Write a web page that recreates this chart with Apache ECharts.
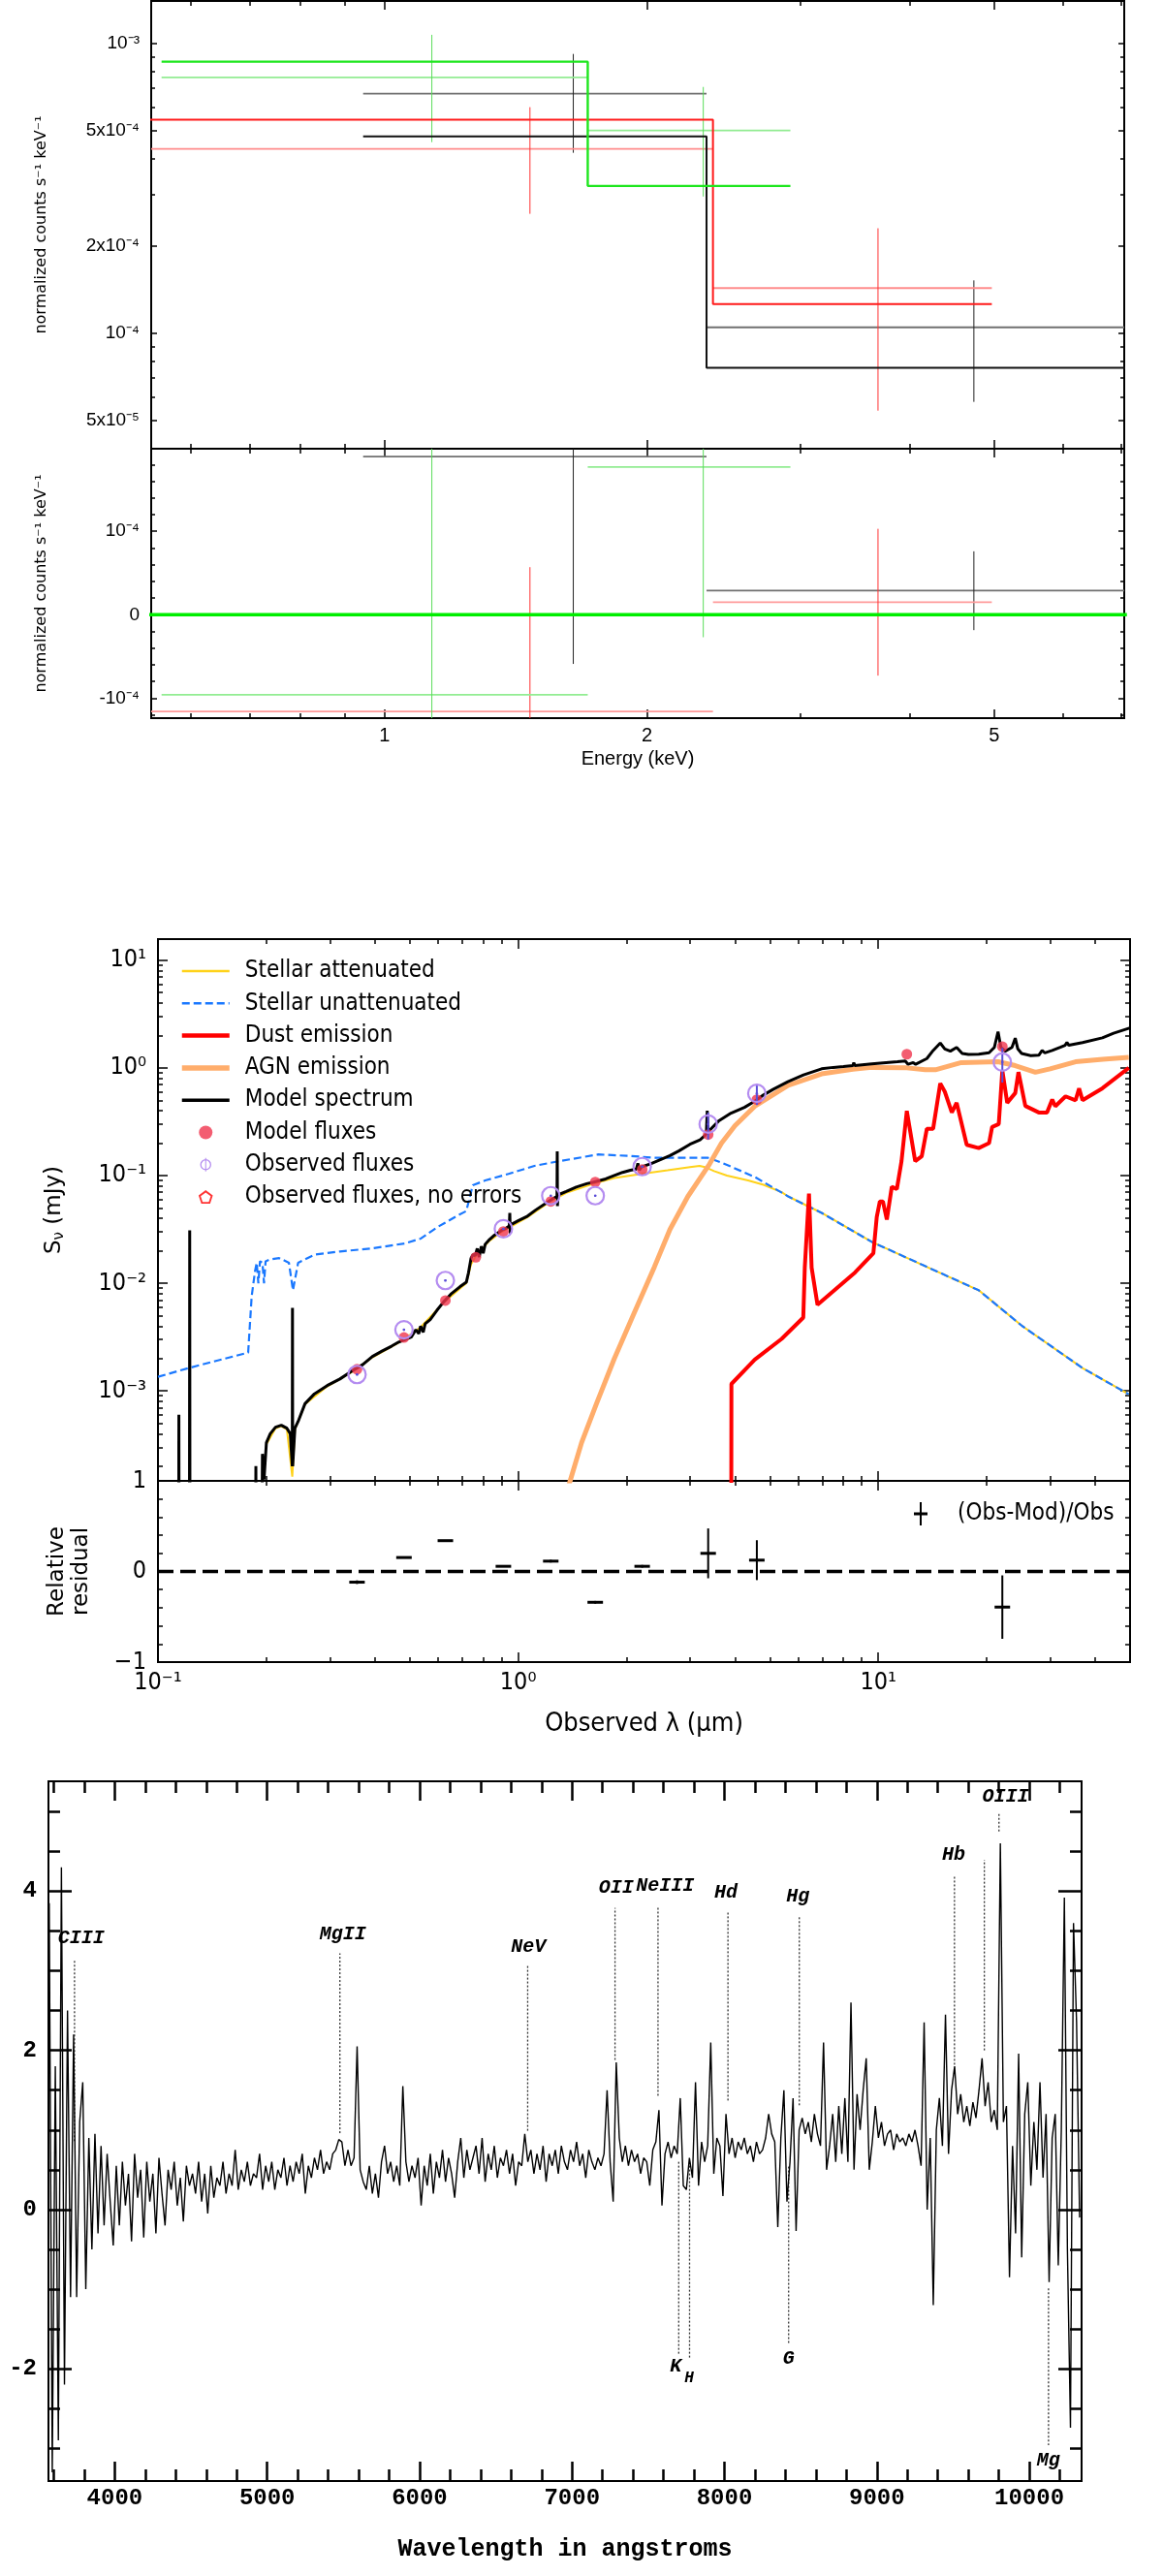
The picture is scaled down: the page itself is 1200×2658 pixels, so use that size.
<!DOCTYPE html>
<html>
<head>
<meta charset="utf-8">
<script src="https://cdn.jsdelivr.net/npm/echarts@6/dist/echarts.min.js"></script>
<style>
  html, body { margin: 0; padding: 0; background: #fff; }
  #chart { width: 1200px; height: 2658px; }
</style>
</head>
<body>
<div id="chart"></div>
<script>
// ---------- X-ray spectrum (top figure) ----------
// model steps [energy keV, counts]
const xrayModelBlack = [[0.945, 4.77e-4], [2.34, 4.77e-4], [2.34, 7.59e-5], [7.08, 7.59e-5]];
const xrayModelRed = [[0.50, 5.45e-4], [2.38, 5.45e-4], [2.38, 1.26e-4], [4.97, 1.26e-4]];
const xrayModelGreen = [[0.555, 8.64e-4], [1.71, 8.64e-4], [1.71, 3.22e-4], [2.92, 3.22e-4]];
// data bins [E_lo, E_hi, E_bar, value, value_lo, value_hi]
const xrayDataBlack = [[0.945, 2.34, 1.646, 6.70e-4, 4.19e-4, 9.19e-4], [2.34, 7.08, 4.74, 1.047e-4, 5.79e-5, 1.52e-4]];
const xrayDataRed = [[0.50, 2.38, 1.468, 4.32e-4, 2.58e-4, 6.02e-4], [2.38, 4.97, 3.68, 1.43e-4, 5.4e-5, 2.30e-4]];
const xrayDataGreen = [[0.555, 1.71, 1.133, 7.63e-4, 4.56e-4, 1.07e-3], [1.71, 2.92, 2.32, 5.0e-4, 2.96e-4, 7.07e-4]];
// residuals, same layout
const xrayResBlack = [[0.945, 2.34, 1.646, 1.896e-4, -0.59e-4, 3e-4], [2.34, 7.08, 4.74, 0.29e-4, -0.185e-4, 0.76e-4]];
const xrayResRed = [[0.50, 2.38, 1.468, -1.16e-4, -2e-4, 0.57e-4], [2.38, 4.97, 3.68, 0.15e-4, -0.73e-4, 1.03e-4]];
const xrayResGreen = [[0.555, 1.71, 1.133, -0.96e-4, -2e-4, 3e-4], [1.71, 2.92, 2.32, 1.77e-4, -0.27e-4, 3e-4]];
const xrayZero = [[0.5, 0], [7.1, 0]];

const xrayETicks = [1, 2, 5];
const xrayELabels = ['1', '2', '5'];
const xrayEMinor = [0.6, 0.7, 0.8, 0.9, 3, 4, 6, 7];
const xrayFluxTicks = [5e-5, 1e-4, 2e-4, 5e-4, 1e-3];
const xrayFluxLabels = ['5x10⁻⁵', '10⁻⁴', '2x10⁻⁴', '5x10⁻⁴', '10⁻³'];
const xrayFluxMinor = [6e-5, 7e-5, 8e-5, 9e-5, 3e-4, 4e-4, 6e-4, 7e-4, 8e-4, 9e-4];
const xrayResTicks = [-1e-4, 0, 1e-4];
const xrayResLabels = ['-10⁻⁴', '0', '10⁻⁴'];
const xrayResMinor = [-1.2e-4, -8e-5, -6e-5, -4e-5, -2e-5, 2e-5, 4e-5, 6e-5, 8e-5, 1.2e-4, 1.4e-4, 1.6e-4, 1.8e-4];

// ---------- SED (middle figure), [wavelength um, mJy] ----------
const stellarAtt = [[0.2, 3.2e-4], [0.212, 4.5e-4], [0.22, 4.7e-4], [0.228, 4.4e-4], [0.236, 1.6e-4], [0.24, 4.4e-4],
  [0.256, 7.5e-4], [0.295, 1.1e-3], [0.351, 1.55e-3], [0.394, 2.05e-3], [0.466, 2.8e-3], [0.536, 3.9e-3],
  [0.621, 6.6e-3], [0.718, 1.0e-2], [0.74, 1.5e-2], [0.76, 1.75e-2], [0.829, 2.45e-2], [0.9, 3.0e-2],
  [1.062, 4.1e-2], [1.214, 5.6e-2], [1.36, 6.9e-2], [1.62, 8.4e-2], [1.85, 0.095], [2.2, 0.1035], [2.6, 0.112],
  [3.0, 0.12], [3.19, 0.123], [3.3, 0.12], [3.5, 0.11], [3.8, 0.10], [4.35, 0.09], [4.8, 0.082], [5.39, 0.07],
  [5.62, 0.064], [6.96, 0.045], [9.59, 0.0242], [13.2, 0.0149], [19.0, 0.0086], [25.1, 0.0040], [36.9, 1.63e-3], [49.6, 9.3e-4]];
const stellarUnatt = [[0.1, 1.35e-3], [0.1217, 1.63e-3], [0.178, 2.27e-3], [0.182, 7.5e-3], [0.186, 1.3e-2], [0.188, 1.55e-2],
  [0.190, 1.0e-2], [0.192, 1.6e-2], [0.195, 1.55e-2], [0.197, 1.0e-2], [0.199, 1.6e-2], [0.204, 1.66e-2], [0.217, 1.71e-2],
  [0.231, 1.55e-2], [0.237, 8.6e-3], [0.245, 1.55e-2], [0.272, 1.84e-2], [0.32, 1.97e-2], [0.394, 2.11e-2], [0.484, 2.34e-2],
  [0.537, 2.6e-2], [0.596, 3.31e-2], [0.675, 4.2e-2], [0.718, 4.68e-2], [0.748, 8.13e-2], [0.81, 9.0e-2], [0.94, 0.1035],
  [1.11, 0.123], [1.30, 0.136], [1.67, 0.157], [2.05, 0.152], [2.39, 0.146], [3.37, 0.146], [3.67, 0.132], [4.54, 0.097],
  [5.62, 0.064], [6.96, 0.045], [9.59, 0.0242], [13.2, 0.0149], [19.0, 0.0086], [25.1, 0.0040], [36.9, 1.63e-3], [49.6, 9.3e-4]];
const dustEmission = [[3.9, 1e-6], [3.91, 1.16e-3], [4.54, 1.95e-3], [5.39, 3.04e-3], [6.19, 4.8e-3], [6.25, 0.0139],
  [6.42, 0.068], [6.53, 0.0139], [6.78, 6.3e-3], [8.62, 0.0126], [9.69, 0.019], [9.9, 0.041], [10.1, 0.0575], [10.3, 0.0575],
  [10.56, 0.039], [10.9, 0.0785], [11.26, 0.075], [11.6, 0.136], [12.0, 0.398], [12.66, 0.136], [13.2, 0.151], [13.64, 0.272],
  [14.2, 0.272], [14.86, 0.718], [15.3, 0.60], [16.0, 0.385], [16.5, 0.474], [17.6, 0.193], [19.0, 0.18], [20.3, 0.2],
  [20.7, 0.282], [21.6, 0.30], [22.1, 0.946], [22.8, 0.474], [24.0, 0.583], [24.5, 0.914], [25.6, 0.443], [27.9, 0.385],
  [29.4, 0.385], [30.4, 0.508], [31.0, 0.44], [33.1, 0.544], [35.3, 0.50], [36.1, 0.646], [36.9, 0.50], [41.9, 0.646], [49.6, 1.0]];
const agnEmission = [[1.37, 1.2e-4], [1.5, 3.3e-4], [1.65, 7.6e-4], [1.85, 2.0e-3], [2.09, 5.1e-3], [2.39, 0.0142],
  [2.64, 0.0316], [2.96, 0.064], [3.4, 0.128], [3.67, 0.2], [4.0, 0.29], [4.54, 0.44], [5.62, 0.69], [6.96, 0.88],
  [8.5, 0.97], [9.59, 1.01], [12.0, 1.0], [13.5, 0.96], [14.4, 0.96], [17.0, 1.12], [21.5, 1.14], [24.0, 1.05],
  [27.3, 0.91], [30.0, 0.98], [35.3, 1.14], [42.0, 1.2], [49.6, 1.25]];
const modelSpectrum = [[0.1140, 1e-6], [0.1143, 6.0e-4], [0.1146, 1e-6], [0.1222, 1e-6], [0.1225, 0.031], [0.1228, 1e-6],
  [0.186, 1e-6], [0.187, 2.0e-4], [0.188, 1e-6], [0.193, 1e-6], [0.195, 2.6e-4], [0.197, 1.5e-4], [0.2, 3.3e-4],
  [0.205, 4.0e-4], [0.212, 4.6e-4], [0.22, 4.8e-4], [0.228, 4.5e-4], [0.233, 4.0e-4], [0.236, 2.0e-4], [0.2363, 5.9e-3],
  [0.2366, 2.0e-4], [0.24, 4.5e-4], [0.245, 5.2e-4], [0.256, 7.6e-4], [0.272, 9.4e-4], [0.295, 1.12e-3], [0.32, 1.29e-3],
  [0.351, 1.58e-3], [0.37, 1.75e-3], [0.394, 2.09e-3], [0.42, 2.35e-3], [0.445, 2.6e-3], [0.466, 2.84e-3], [0.505, 3.16e-3],
  [0.52, 3.7e-3], [0.53, 3.4e-3], [0.536, 4.0e-3], [0.545, 3.5e-3], [0.552, 4.2e-3], [0.57, 4.6e-3], [0.595, 5.6e-3],
  [0.621, 6.7e-3], [0.65, 7.9e-3], [0.69, 9.3e-3], [0.718, 1.02e-2], [0.728, 1.25e-2], [0.74, 1.71e-2], [0.75, 1.85e-2],
  [0.76, 1.8e-2], [0.77, 2.1e-2], [0.78, 1.75e-2], [0.79, 2.2e-2], [0.80, 1.9e-2], [0.81, 2.3e-2], [0.829, 2.51e-2],
  [0.86, 2.8e-2], [0.9, 3.1e-2], [0.92, 3.2e-2], [0.945, 3.4e-2], [0.948, 4.5e-2], [0.951, 2.9e-2], [0.955, 3.5e-2],
  [1.0, 3.8e-2], [1.062, 4.2e-2], [1.12, 4.8e-2], [1.214, 5.75e-2], [1.26, 6.2e-2], [1.282, 6.4e-2], [1.284, 0.168],
  [1.286, 5.2e-2], [1.29, 6.6e-2], [1.36, 7.1e-2], [1.45, 7.8e-2], [1.55, 8.4e-2], [1.62, 8.7e-2], [1.75, 9.3e-2],
  [1.85, 0.10], [1.95, 0.107], [2.05, 0.112], [2.13, 0.115], [2.15, 0.13], [2.17, 0.112], [2.2, 0.12], [2.35, 0.13],
  [2.5, 0.142], [2.64, 0.153], [2.8, 0.17], [3.0, 0.195], [3.2, 0.215], [3.3, 0.235], [3.33, 0.245], [3.35, 0.40],
  [3.37, 0.255], [3.6, 0.32], [3.9, 0.38], [4.25, 0.43], [4.54, 0.49], [4.8, 0.56], [5.1, 0.63], [5.61, 0.743],
  [6.2, 0.86], [6.96, 0.98], [7.5, 1.01], [8.0, 1.03], [8.5, 1.05], [8.55, 1.12], [8.6, 1.05], [9.59, 1.09], [10.5, 1.12],
  [11.3, 1.14], [11.88, 1.16], [12.1, 1.08], [12.5, 1.12], [12.7, 1.08], [13.64, 1.22], [14.2, 1.45], [14.86, 1.70],
  [15.3, 1.5], [15.85, 1.43], [16.5, 1.55], [17.1, 1.36], [17.8, 1.33], [19.0, 1.34], [20.3, 1.38], [21.0, 1.55],
  [21.5, 2.17], [21.9, 1.55], [22.5, 1.43], [23.5, 1.55], [24.0, 1.89], [24.4, 1.50], [25.0, 1.36], [26.5, 1.30],
  [27.9, 1.31], [28.5, 1.45], [29.0, 1.38], [30.4, 1.45], [32.0, 1.55], [33.0, 1.62], [33.4, 1.72], [33.8, 1.62],
  [36.9, 1.72], [41.9, 1.90], [45.0, 2.10], [50, 2.35]];
const modelFluxes = [[0.357, 1.59e-3], [0.482, 3.13e-3], [0.628, 6.9e-3], [0.763, 1.74e-2], [0.910, 3.02e-2],
  [1.232, 5.75e-2], [1.637, 8.7e-2], [2.21, 0.114], [3.37, 0.24], [4.60, 0.507], [12.0, 1.34], [22.1, 1.575]];
// [wavelength, flux, error]
const obsFluxes = [[0.357, 1.42e-3, 3e-5], [0.482, 3.7e-3, 8e-5], [0.628, 1.06e-2, 2e-4], [0.910, 3.2e-2, 6e-4],
  [1.232, 6.5e-2, 1e-3], [1.637, 6.5e-2, 1e-3], [2.21, 0.121, 2e-3], [3.37, 0.30, 0.084], [4.60, 0.58, 0.128], [22.1, 1.13, 0.40]];
const obsNoErr = [];
// relative residuals [wavelength, (obs-mod)/obs, error]
const relResidual = [[0.357, -0.118, 0.02], [0.482, 0.154, 0], [0.628, 0.34, 0], [0.910, 0.057, 0], [1.232, 0.114, 0.015],
  [1.637, -0.34, 0.015], [2.21, 0.057, 0.015], [3.37, 0.20, 0.275], [4.60, 0.125, 0.22], [22.1, -0.393, 0.35]];
const sedZero = [[0.1, 0], [50, 0]];

const sedWaveTicks = [0.1, 1, 10];
const sedWaveLabels = ['10⁻¹', '10⁰', '10¹'];
const sedWaveMinor = [0.2, 0.3, 0.4, 0.5, 0.6, 0.7, 0.8, 0.9, 2, 3, 4, 5, 6, 7, 8, 9, 20, 30, 40];
const sedFluxTicks = [1e-3, 1e-2, 1e-1, 1, 10];
const sedFluxLabels = ['10⁻³', '10⁻²', '10⁻¹', '10⁰', '10¹'];
const sedFluxMinor = [];
[1e-4, 1e-3, 1e-2, 1e-1, 1].forEach(function (d) { for (let m = 2; m <= 9; m++) sedFluxMinor.push(m * d); });
const sedResTicks = [-1, 0, 1];
const sedResLabels = ['−1', '0', '1'];
const sedResMinor = [-0.8, -0.6, -0.4, -0.2, 0.2, 0.4, 0.6, 0.8];

// ---------- optical spectrum (bottom figure) ----------
const specStart = 3570, specStep = 20;
const specFlux = [
  3.85, -3.3, 1.8, -2.9, 4.3, -2.2, 2.5, -1.1, 2.2, -1.1,
  1.1, 1.6, -1.0, 0.9, -0.5, 0.95, -0.3, 0.8, -0.2, 0.7,
  0.1, -0.45, 0.55, -0.2, 0.6, 0.05, 0.45, -0.4, 0.7, 0.15,
  0.5, -0.35, 0.6, 0.1, 0.45, -0.3, 0.65, 0.2, -0.2, 0.5,
  0.25, 0.6, 0.05, 0.4, -0.15, 0.55, 0.3, 0.45, 0.2, 0.6,
  0.1, 0.45, -0.05, 0.55, 0.15, 0.4, 0.3, 0.6, 0.2, 0.45,
  0.3, 0.75, 0.25, 0.5, 0.35, 0.6, 0.3, 0.45, 0.4, 0.7,
  0.25, 0.55, 0.35, 0.6, 0.25, 0.5, 0.4, 0.65, 0.3, 0.55,
  0.35, 0.6, 0.45, 0.7, 0.2, 0.55, 0.4, 0.65, 0.5, 0.75,
  0.45, 0.6, 0.5, 0.7, 0.75, 0.88, 0.85, 0.55, 0.75, 0.55,
  0.65, 2.05, 0.5, 0.35, 0.25, 0.55, 0.2, 0.45, 0.15, 0.6,
  0.8, 0.45, 0.6, 0.35, 0.55, 0.3, 1.55, 0.6, 0.35, 0.55,
  0.4, 0.65, 0.05, 0.55, 0.3, 0.7, 0.2, 0.6, 0.4, 0.75,
  0.35, 0.65, 0.45, 0.15, 0.6, 0.9, 0.4, 0.75, 0.5, 0.65,
  0.8, 0.45, 0.9, 0.35, 0.7, 0.5, 0.8, 0.4, 0.65, 0.55,
  0.75, 0.45, 0.7, 0.3, 0.6, 0.55, 0.95, 0.6, 0.75, 0.45,
  0.7, 0.5, 0.8, 0.35, 0.7, 0.55, 0.75, 0.45, 0.8, 0.6,
  0.5, 0.75, 0.6, 0.85, 0.55, 0.7, 0.4, 0.75, 0.6, 0.5,
  0.65, 0.55, 0.7, 1.5, 0.6, 0.1, 1.85, 0.9, 0.6, 0.8,
  0.55, 0.75, 0.6, 0.7, 0.45, 0.65, 0.6, 0.3, 0.75, 0.85,
  1.25, 0.05, 0.7, 0.85, 0.65, 0.8, 0.7, 1.4, 0.3, 0.25,
  0.65, 0.4, 1.6, 0.3, 0.85, 0.6, 0.8, 2.1, 0.45, 0.9,
  0.8, 0.17, 1.2, 0.7, 0.9, 0.65, 0.85, 0.75, 0.9, 0.7,
  0.8, 0.6, 0.85, 0.7, 0.75, 0.9, 1.2, 0.95, 0.85, -0.22,
  0.9, 1.5, 0.1, 0.6, 1.4, -0.27, 1.0, 1.15, 0.95, 1.1,
  0.85, 1.2, 0.95, 0.8, 2.1, 0.5, 0.8, 1.2, 0.6, 1.3,
  0.7, 1.4, 0.6, 2.6, 0.5, 1.45, 1.0, 1.5, 1.9, 0.5,
  0.85, 1.3, 0.9, 1.1, 0.8, 0.95, 1.0, 0.75, 0.95, 0.85,
  0.9, 0.8, 0.95, 0.85, 1.0, 0.8, 0.55, 2.35, 0.0, 0.9,
  -1.2, 1.0, 1.4, 0.8, 2.45, 0.7, 1.5, 1.8, 1.2, 1.45,
  1.1, 1.3, 1.05, 1.35, 1.15, 1.5, 1.9, 1.3, 1.6, 1.1,
  1.25, 1.0, 4.6, 1.1, 1.3, -0.85, 0.8, -0.3, 1.96, -0.6,
  1.2, 1.6, 0.3, 1.1, 0.5, 1.6, 0.4, 1.2, -0.91, 0.9,
  1.2, -0.7, 1.0, 3.92, -0.5, -2.74, 3.6, 2.36, -0.1
];
// [label, line wavelength, line from, line to, label wavelength, label y, font size]
const specLines = [
  ['CIII', 3736, 0.86, 3.15, 3780, 3.41, 20],
  ['MgII', 5477, 0.96, 3.22, 5497, 3.46, 20],
  ['NeV', 6709, 0.99, 3.06, 6714, 3.30, 20],
  ['OII', 7282, 1.88, 3.79, 7290, 4.04, 20],
  ['NeIII', 7564, 1.43, 3.79, 7610, 4.06, 20],
  ['Hd', 8023, 1.37, 3.73, 8010, 3.98, 20],
  ['Hg', 8491, 1.31, 3.68, 8481, 3.93, 20],
  ['Hb', 9509, 1.82, 4.18, 9504, 4.45, 20],
  ['', 9705, 2.0, 4.39, 9705, 0, 20],
  ['OIII', 9801, 4.75, 4.97, 9844, 5.18, 20],
  ['K', 7700, 0.6, -1.82, 7680, -1.97, 20],
  ['H', 7771, 0.6, -1.88, 7768, -2.12, 16],
  ['G', 8421, 0.54, -1.69, 8421, -1.88, 20],
  ['Mg', 10126, -0.99, -2.96, 10126, -3.15, 20]
];
const specWaveTicks = [4000, 5000, 6000, 7000, 8000, 9000, 10000];
const specWaveMinor = [3600, 3800, 4200, 4400, 4600, 4800, 5200, 5400, 5600, 5800, 6200, 6400, 6600, 6800,
  7200, 7400, 7600, 7800, 8200, 8400, 8600, 8800, 9200, 9400, 9600, 9800, 10200];
const specFluxTicks = [-2, 0, 2, 4];
const specFluxLabels = ['-2', '0', '2', '4'];
const specFluxMinor = [-3, -2.5, -1.5, -1, -0.5, 0.5, 1, 1.5, 2.5, 3, 3.5, 4.5, 5];

// ---------- helpers ----------
const NARROW = "'Liberation Sans Narrow','DejaVu Sans Condensed','Liberation Sans',sans-serif";
const PLAIN = "'Liberation Sans','Helvetica','Arial',sans-serif";
const WIDE = "'DejaVu Sans','Liberation Sans',sans-serif";
const MONO = "'Liberation Mono','DejaVu Sans Mono',monospace";

function pick(values, texts) {
  return function (v) {
    let best = 0;
    for (let i = 1; i < values.length; i++) {
      if (Math.abs(v - values[i]) < Math.abs(v - values[best])) best = i;
    }
    return texts[best];
  };
}

const xAxes = [];
const yAxes = [];

// main axis (labels + major ticks), minor ticks, and the mirrored pair on the other side
function addAxes(list, dim, gridIndex, o) {
  const sides = dim === 'x' ? ['bottom', 'top'] : ['left', 'right'];
  const first = list.length;
  const tickStyle = { color: '#000', width: o.tickWidth || 1.5 };
  [[sides[0], true], [sides[1], false]].forEach(function (s) {
    const main = s[1];
    list.push({
      gridIndex: gridIndex, type: o.type, min: o.min, max: o.max, position: s[0], silent: true,
      axisLine: { show: false, onZero: false },
      splitLine: { show: false },
      axisTick: { show: true, inside: true, length: o.majorLen, customValues: o.major, lineStyle: tickStyle },
      axisLabel: main && o.labels ? {
        show: true, customValues: o.major, formatter: o.labels, margin: o.margin, color: '#000',
        fontSize: o.fontSize, fontFamily: o.font, fontWeight: o.fontWeight || 'normal'
      } : { show: false },
      name: main && o.name ? o.name : '',
      nameLocation: 'middle', nameGap: o.nameGap, nameTextStyle: o.nameStyle
    });
    list.push({
      gridIndex: gridIndex, type: o.type, min: o.min, max: o.max, position: s[0], silent: true,
      axisLine: { show: false, onZero: false },
      splitLine: { show: false },
      axisTick: { show: true, inside: true, length: o.minorLen, customValues: o.minor, lineStyle: tickStyle },
      axisLabel: { show: false }
    });
  });
  return first;
}

function clampY(v, cs) { return Math.min(Math.max(v, cs.y), cs.y + cs.height); }

// XSPEC style cross: bin width + vertical error
function crossRender(barColor, errColor) {
  return function (params, api) {
    const cs = params.coordSys;
    const a = api.coord([api.value(0), api.value(3)]);
    const b = api.coord([api.value(1), api.value(3)]);
    const lo = api.coord([api.value(2), api.value(4)]);
    const hi = api.coord([api.value(2), api.value(5)]);
    return {
      type: 'group', children: [
        { type: 'line', shape: { x1: Math.max(a[0], cs.x), y1: a[1], x2: Math.min(b[0], cs.x + cs.width), y2: b[1] },
          style: { stroke: barColor, lineWidth: 1.8 } },
        { type: 'line', shape: { x1: lo[0], y1: clampY(lo[1], cs), x2: hi[0], y2: clampY(hi[1], cs) },
          style: { stroke: errColor, lineWidth: 1 } }
      ]
    };
  };
}

const xrayNameStyle = { fontFamily: WIDE, fontSize: 16, color: '#000' };

// ---------- axes ----------
const xr0 = addAxes(xAxes, 'x', 0, { type: 'log', min: 0.54, max: 7.05, major: xrayETicks, minor: xrayEMinor, majorLen: 9, minorLen: 5 });
const yr0 = addAxes(yAxes, 'y', 0, {
  type: 'log', min: 3.99e-5, max: 1.40e-3, major: xrayFluxTicks, minor: xrayFluxMinor, majorLen: 6, minorLen: 4,
  labels: pick(xrayFluxTicks, xrayFluxLabels), margin: 12, fontSize: 19, font: PLAIN,
  name: 'normalized counts s⁻¹ keV⁻¹', nameGap: 105, nameStyle: xrayNameStyle
});
const xr1 = addAxes(xAxes, 'x', 1, {
  type: 'log', min: 0.54, max: 7.05, major: xrayETicks, minor: xrayEMinor, majorLen: 9, minorLen: 5,
  labels: pick(xrayETicks, xrayELabels), margin: 8, fontSize: 20, font: PLAIN,
  name: 'Energy (keV)', nameGap: 32, nameStyle: { fontFamily: PLAIN, fontSize: 20, color: '#000' }
});
const yr1 = addAxes(yAxes, 'y', 1, {
  type: 'value', min: -1.24e-4, max: 1.99e-4, major: xrayResTicks, minor: xrayResMinor, majorLen: 6, minorLen: 4,
  labels: pick(xrayResTicks, xrayResLabels), margin: 12, fontSize: 19, font: PLAIN,
  name: 'normalized counts s⁻¹ keV⁻¹', nameGap: 105, nameStyle: xrayNameStyle
});

const xs0 = addAxes(xAxes, 'x', 2, { type: 'log', min: 0.1, max: 50, major: sedWaveTicks, minor: sedWaveMinor, majorLen: 10, minorLen: 5 });
const ys0 = addAxes(yAxes, 'y', 2, {
  type: 'log', min: 1.46e-4, max: 15.7, major: sedFluxTicks, minor: sedFluxMinor, majorLen: 10, minorLen: 5,
  labels: pick(sedFluxTicks, sedFluxLabels), margin: 12, fontSize: 25, font: NARROW,
  name: '{n|S}{s|ν}{n| (mJy)}', nameGap: 94,
  nameStyle: { color: '#000', rich: { n: { fontFamily: WIDE, fontSize: 23 }, s: { fontFamily: WIDE, fontSize: 15, padding: [10, 0, 0, 0] } } }
});
const xs1 = addAxes(xAxes, 'x', 3, {
  type: 'log', min: 0.1, max: 50, major: sedWaveTicks, minor: sedWaveMinor, majorLen: 10, minorLen: 5,
  labels: pick(sedWaveTicks, sedWaveLabels), margin: 9, fontSize: 25, font: NARROW,
  name: 'Observed λ (μm)', nameGap: 50, nameStyle: { fontFamily: NARROW, fontSize: 27, color: '#000' }
});
const ys1 = addAxes(yAxes, 'y', 3, {
  type: 'value', min: -1, max: 1, major: sedResTicks, minor: sedResMinor, majorLen: 10, minorLen: 5,
  labels: pick(sedResTicks, sedResLabels), margin: 12, fontSize: 25, font: NARROW,
  name: 'Relative\nresidual', nameGap: 66, nameStyle: { fontFamily: WIDE, fontSize: 23, lineHeight: 25, color: '#000' }
});

const xp = addAxes(xAxes, 'x', 4, {
  type: 'value', min: 3565, max: 10343, major: specWaveTicks, minor: specWaveMinor, majorLen: 20, minorLen: 12, tickWidth: 2.5,
  labels: function (v) { return String(Math.round(v)); }, margin: 6, fontSize: 24, font: MONO, fontWeight: 'bold',
  name: 'Wavelength in angstroms', nameGap: 58, nameStyle: { fontFamily: MONO, fontWeight: 'bold', fontSize: 25, color: '#000' }
});
const yp = addAxes(yAxes, 'y', 4, {
  type: 'value', min: -3.41, max: 5.38, major: specFluxTicks, minor: specFluxMinor, majorLen: 24, minorLen: 12, tickWidth: 2.5,
  labels: pick(specFluxTicks, specFluxLabels), margin: 12, fontSize: 24, font: MONO, fontWeight: 'bold'
});

// ---------- series ----------
function stepLine(name, data, color, xi, yi, width) {
  return { name: name, type: 'line', data: data, xAxisIndex: xi, yAxisIndex: yi, symbol: 'none', silent: true,
    lineStyle: { color: color, width: width || 2 }, itemStyle: { color: color }, clip: true, animation: false };
}
function cross(data, bar, err, xi, yi) {
  return { type: 'custom', data: data, xAxisIndex: xi, yAxisIndex: yi, silent: true, clip: true,
    encode: { x: [0, 1, 2], y: [3, 4, 5] }, renderItem: crossRender(bar, err) };
}

const specData = specFlux.map(function (f, i) { return [specStart + i * specStep, f]; });

const series = [
  // X-ray spectrum
  cross(xrayDataBlack, '#707070', '#222', xr0, yr0),
  cross(xrayDataRed, '#ff8c8c', '#ff3030', xr0, yr0),
  cross(xrayDataGreen, '#92ec92', '#5bdc5b', xr0, yr0),
  stepLine('', xrayModelBlack, '#111', xr0, yr0, 2),
  stepLine('', xrayModelRed, '#ff1a1a', xr0, yr0, 2),
  stepLine('', xrayModelGreen, '#1ee61e', xr0, yr0, 2.4),
  // X-ray residuals
  stepLine('', xrayZero, '#00ee00', xr1, yr1, 3.5),
  cross(xrayResBlack, '#707070', '#222', xr1, yr1),
  cross(xrayResRed, '#ff9a9a', '#ff3030', xr1, yr1),
  cross(xrayResGreen, '#92ec92', '#5bdc5b', xr1, yr1),
  // SED
  stepLine('Stellar attenuated', stellarAtt, '#ffd21a', xs0, ys0, 2),
  Object.assign(stepLine('Stellar unattenuated', stellarUnatt, '#1a78ff', xs0, ys0, 2),
    { lineStyle: { color: '#1a78ff', width: 2.2, type: [8, 4] } }),
  stepLine('AGN emission', agnEmission, '#ffad6b', xs0, ys0, 5),
  stepLine('Dust emission', dustEmission, '#ff0000', xs0, ys0, 4),
  stepLine('Model spectrum', modelSpectrum, '#000000', xs0, ys0, 3),
  { name: 'Model fluxes', type: 'scatter', data: modelFluxes, xAxisIndex: xs0, yAxisIndex: ys0, symbol: 'circle',
    symbolSize: 11, itemStyle: { color: '#f0344e' }, silent: true, z: 5 },
  { name: 'Observed fluxes', type: 'custom', data: obsFluxes, xAxisIndex: xs0, yAxisIndex: ys0, silent: true, z: 6,
    encode: { x: 0, y: 1 }, itemStyle: { color: '#b48cf0' },
    renderItem: function (params, api) {
      const c = api.coord([api.value(0), api.value(1)]);
      const lo = api.coord([api.value(0), api.value(1) - api.value(2)]);
      const hi = api.coord([api.value(0), api.value(1) + api.value(2)]);
      return { type: 'group', children: [
        { type: 'line', shape: { x1: c[0], y1: lo[1], x2: c[0], y2: hi[1] }, style: { stroke: '#5b4ed8', lineWidth: 2 } },
        { type: 'circle', shape: { cx: c[0], cy: c[1], r: 9 }, style: { fill: 'none', stroke: '#b48cf0', lineWidth: 2.2 } },
        { type: 'circle', shape: { cx: c[0], cy: c[1], r: 1.3 }, style: { fill: '#5b4ed8' } }
      ] };
    } },
  { name: 'Observed fluxes, no errors', type: 'scatter', data: obsNoErr, xAxisIndex: xs0, yAxisIndex: ys0,
    symbol: 'path://M10,0 L19.51,6.91 L15.88,18.09 L4.12,18.09 L0.49,6.91 Z', itemStyle: { color: '#ff0000' } },
  // SED residuals
  Object.assign(stepLine('', sedZero, '#000', xs1, ys1, 3.5), { lineStyle: { color: '#000', width: 3.5, type: [16, 7] } }),
  { name: '(Obs-Mod)/Obs', type: 'custom', data: relResidual, xAxisIndex: xs1, yAxisIndex: ys1, silent: true, clip: true,
    encode: { x: 0, y: 1 }, itemStyle: { color: '#000' },
    renderItem: function (params, api) {
      const c = api.coord([api.value(0), api.value(1)]);
      const lo = api.coord([api.value(0), api.value(1) - api.value(2)]);
      const hi = api.coord([api.value(0), api.value(1) + api.value(2)]);
      return { type: 'group', children: [
        { type: 'line', shape: { x1: c[0] - 8, y1: c[1], x2: c[0] + 8, y2: c[1] }, style: { stroke: '#000', lineWidth: 3 } },
        { type: 'line', shape: { x1: c[0], y1: lo[1], x2: c[0], y2: hi[1] }, style: { stroke: '#000', lineWidth: 2 } }
      ] };
    } },
  // optical spectrum
  stepLine('', specData, '#000', xp, yp, 1.4),
  { type: 'custom', data: specLines.map(function (r) { return [r[1], r[2], r[3], r[4], r[5], r[6]]; }),
    xAxisIndex: xp, yAxisIndex: yp, silent: true, encode: { x: [0, 3], y: [1, 2, 4] },
    renderItem: function (params, api) {
      const row = specLines[params.dataIndex];
      const a = api.coord([row[1], row[2]]);
      const b = api.coord([row[1], row[3]]);
      const t = api.coord([row[4], row[5]]);
      const kids = [{ type: 'line', shape: { x1: a[0], y1: a[1], x2: b[0], y2: b[1] },
        style: { stroke: '#333', lineWidth: 1.3, lineDash: [2, 2] } }];
      if (row[0]) {
        kids.push({ type: 'text', style: { text: row[0], x: t[0], y: t[1], fill: '#000', align: 'center', verticalAlign: 'middle',
          font: 'italic bold ' + row[6] + 'px ' + MONO } });
      }
      return { type: 'group', children: kids };
    } }
];

// ---------- chart ----------
const chart = echarts.init(document.getElementById('chart'), null, { renderer: 'canvas' });
const gridBase = { show: true, borderColor: '#000', borderWidth: 2, backgroundColor: 'transparent', containLabel: false, outerBoundsMode: 'none' };
const noSymbol = { color: 'rgba(0,0,0,0)', borderWidth: 0 };

chart.setOption({
  animation: false,
  backgroundColor: '#fff',
  grid: [
    Object.assign({ left: 156, top: 1, width: 1004, height: 462 }, gridBase),
    Object.assign({ left: 156, top: 463, width: 1004, height: 278 }, gridBase),
    Object.assign({ left: 163, top: 969, width: 1003, height: 559 }, gridBase),
    Object.assign({ left: 163, top: 1528, width: 1003, height: 187 }, gridBase),
    Object.assign({ left: 50, top: 1838, width: 1066, height: 722 }, gridBase)
  ],
  xAxis: xAxes,
  yAxis: yAxes,
  legend: [
    {
      left: 180, top: 985, orient: 'vertical', itemWidth: 49, itemHeight: 14, itemGap: 9.3, selectedMode: false,
      textStyle: { fontFamily: NARROW, fontSize: 24, lineHeight: 24, color: '#000', padding: [0, 0, 0, 11] },
      data: [
        { name: 'Stellar attenuated', itemStyle: noSymbol, lineStyle: { color: '#ffd21a', width: 2.5, type: 'solid' } },
        { name: 'Stellar unattenuated', itemStyle: noSymbol, lineStyle: { color: '#1a78ff', width: 2.5, type: [8, 4] } },
        { name: 'Dust emission', itemStyle: noSymbol, lineStyle: { color: '#ff0000', width: 4.5, type: 'solid' } },
        { name: 'AGN emission', itemStyle: noSymbol, lineStyle: { color: '#ffad6b', width: 5.5, type: 'solid' } },
        { name: 'Model spectrum', itemStyle: noSymbol, lineStyle: { color: '#000000', width: 3.5, type: 'solid' } },
        { name: 'Model fluxes', icon: 'path://M5,0 A5,5 0 0,1 5,10 A5,5 0 0,1 5,0 Z', itemStyle: { color: '#f0344e' } },
        { name: 'Observed fluxes', icon: 'path://M10,1 A9,9 0 0,1 10,19 A9,9 0 0,1 10,1 Z M10,3 A7,7 0 0,0 10,17 A7,7 0 0,0 10,3 Z M9.2,-1 H10.8 V21 H9.2 Z', itemStyle: { color: '#b48cf0' } },
        { name: 'Observed fluxes, no errors', icon: 'path://M10,0 L19.51,6.91 L15.88,18.09 L4.12,18.09 L0.49,6.91 Z M10,3 L3.34,7.84 L5.89,15.66 L14.11,15.66 L16.66,7.84 Z', itemStyle: { color: '#ff0000' } }
      ]
    },
    {
      left: 938, top: 1545, orient: 'vertical', itemWidth: 14, itemHeight: 24, selectedMode: false,
      textStyle: { fontFamily: NARROW, fontSize: 24, color: '#000', padding: [0, 0, 0, 26] },
      data: [{ name: '(Obs-Mod)/Obs', icon: 'path://M6,0H8V10.5H14V13.5H8V24H6V13.5H0V10.5H6Z', itemStyle: { color: '#000' } }]
    }
  ],
  series: series
});
</script>
</body>
</html>
